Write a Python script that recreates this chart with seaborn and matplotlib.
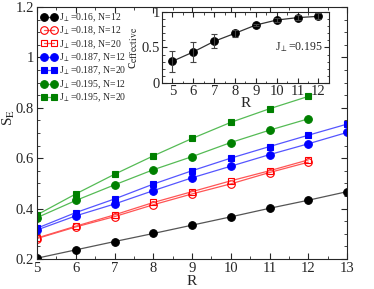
import numpy as np
import pandas as pd
import seaborn as sns
import matplotlib.pyplot as plt
from matplotlib.ticker import MultipleLocator

sns.set_style("ticks")
plt.rcParams['font.family'] = ['Liberation Serif', 'DejaVu Serif']
plt.rcParams['mathtext.fontset'] = 'stix'
plt.rcParams['xtick.direction'] = 'in'
plt.rcParams['ytick.direction'] = 'in'
plt.rcParams['xtick.top'] = True
plt.rcParams['ytick.right'] = True

# main panel data
R13 = [5, 6, 7, 8, 9, 10, 11, 12, 13]
R12 = [5, 6, 7, 8, 9, 10, 11, 12]
se_016_n12 = [0.203, 0.236, 0.269, 0.301, 0.334, 0.367, 0.401, 0.433, 0.467]
se_018_n12 = [0.281, 0.327, 0.368, 0.415, 0.458, 0.498, 0.543, 0.584]
se_018_n20 = [0.283, 0.330, 0.375, 0.424, 0.467, 0.510, 0.550, 0.593]
se_0187_n12 = [0.315, 0.371, 0.418, 0.471, 0.522, 0.568, 0.614, 0.657, 0.702]
se_0187_n20 = [0.322, 0.384, 0.438, 0.497, 0.550, 0.600, 0.646, 0.691, 0.735]
se_0195_n12 = [0.364, 0.432, 0.494, 0.554, 0.606, 0.662, 0.711, 0.756]
se_0195_n20 = [0.375, 0.458, 0.536, 0.609, 0.678, 0.742, 0.796, 0.845]

labels = [r'J$_\perp$=0.16, N=12', r'J$_\perp$=0.18, N=12', r'J$_\perp$=0.18, N=20',
          r'J$_\perp$=0.187, N=12', r'J$_\perp$=0.187, N=20',
          r'J$_\perp$=0.195, N=12', r'J$_\perp$=0.195, N=20']

# inset data
R_in = [5, 6, 7, 8, 9, 10, 11, 12]
c_eff = [0.305, 0.436, 0.586, 0.699, 0.816, 0.886, 0.920, 0.938]
c_err = [0.150, 0.140, 0.100, 0.045, 0.020, 0.030, 0.040, 0.040]

series = [
    (R13, se_016_n12, 'o', 'black', '#555555', True),
    (R12, se_018_n12, 'o', 'red', '#ff5555', False),
    (R12, se_018_n20, 's', 'red', '#ff5555', False),
    (R13, se_0187_n12, 'o', 'blue', '#5555ff', True),
    (R13, se_0187_n20, 's', 'blue', '#5555ff', True),
    (R12, se_0195_n12, 'o', 'green', '#55bb55', True),
    (R12, se_0195_n20, 's', 'green', '#55bb55', True),
]

fig = plt.figure(figsize=(3.74, 2.89), dpi=100)
ax = fig.add_axes([0.099, 0.104, 0.829, 0.872])

handles = []
for (xs, ys, m, col, lcol, filled), lab in zip(series, labels):
    df = pd.DataFrame({"R": xs, "S": ys})
    sns.lineplot(data=df, x="R", y="S", ax=ax, color=lcol, lw=0.9,
                 marker=m, markersize=5.5 if m == 'o' else 5,
                 markeredgecolor=col, markeredgewidth=0.8,
                 markerfacecolor=col if filled else 'none')
    handles.append(ax.lines[-1])

ax.set_xlim(5, 13)
ax.set_ylim(0.2, 1.2)
ax.xaxis.set_major_locator(MultipleLocator(1))
ax.xaxis.set_minor_locator(MultipleLocator(0.5))
ax.yaxis.set_major_locator(MultipleLocator(0.2))
ax.yaxis.set_minor_locator(MultipleLocator(0.05))
ax.set_yticks([0.2, 0.4, 0.6, 0.8, 1.0, 1.2])
ax.set_yticklabels(['0.2', '0.4', '0.6', '0.8', '1', '1.2'])
ax.tick_params(which='major', length=4, labelsize=10.5, pad=2)
ax.tick_params(which='minor', length=2)
ax.set_xlabel('R', fontsize=11, labelpad=0)
ax.set_ylabel(r'S$_{\rm E}$', fontsize=11, labelpad=4)
ax.yaxis.set_label_coords(-0.065, 0.56)

ax.legend(handles, labels, loc='upper left', frameon=False, numpoints=2,
          fontsize=7, handlelength=1.6, handletextpad=0.25, labelspacing=0.1,
          borderaxespad=0.05, bbox_to_anchor=(0.0, 1.0))

# inset
axi = fig.add_axes([0.433, 0.713, 0.4465, 0.2457])
sns.lineplot(x=R_in, y=c_eff, ax=axi, color='#333333', lw=0.9, marker='o',
             markersize=5.5, markeredgecolor='black', markerfacecolor='black')
axi.errorbar(R_in, c_eff, yerr=c_err, fmt='none', ecolor='#444444',
             elinewidth=0.8, capsize=2.5, capthick=0.8)
axi.set_xlim(4.5, 12.5)
axi.set_ylim(0, 1)
axi.xaxis.set_major_locator(MultipleLocator(1))
axi.xaxis.set_minor_locator(MultipleLocator(0.5))
axi.yaxis.set_major_locator(MultipleLocator(0.5))
axi.yaxis.set_minor_locator(MultipleLocator(0.1))
axi.set_yticks([0, 0.5, 1])
axi.set_yticklabels(['0', '0.5', '1'])
axi.tick_params(which='major', length=3.5, labelsize=10.5, pad=1.5)
axi.tick_params(which='minor', length=1.8)
axi.set_xlabel('R', fontsize=11, labelpad=-1)
axi.set_ylabel(r'c$_{\rm effective}$', fontsize=10, labelpad=1)
axi.text(0.68, 0.45, r'J$_\perp$=0.195', transform=axi.transAxes, fontsize=8.5)

fig.savefig('out.png', dpi=100)
